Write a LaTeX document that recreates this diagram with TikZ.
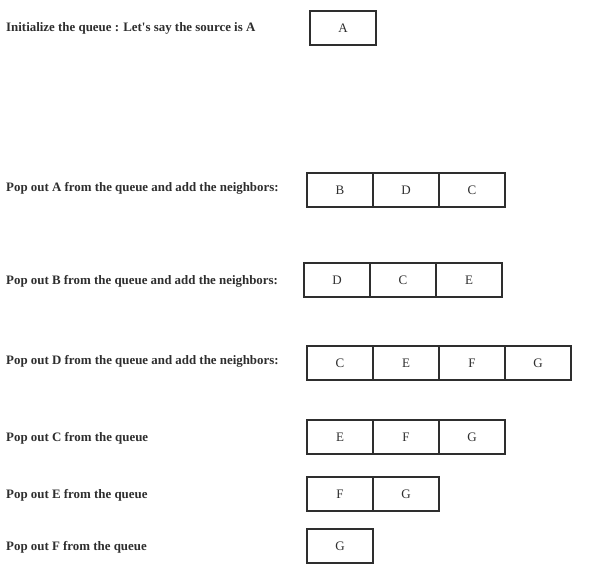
\documentclass[tikz,border=0pt]{standalone}
\usepackage{fontspec}
\setmainfont{Liberation Serif}
\definecolor{ink}{HTML}{2E2E2E}
\tikzset{
  cell/.style={draw=ink, text=ink, line width=1.7pt, outer sep=0pt, inner sep=0pt,
    minimum width=66pt, minimum height=34pt, font=\fontsize{13}{15}\selectfont},
  steplabel/.style={anchor=west, text=ink, inner sep=0pt, font=\bfseries\fontsize{12.9}{15}\selectfont}
}
\begin{document}
\begin{tikzpicture}[x=1pt, y=-1pt]
\useasboundingbox (0,0) rectangle (597,570);
% labels
\node[steplabel] (l1) at (6,28) {Initialize the queue : Let\textquotesingle s say the source is A};
\node[steplabel] (l2) at (6,188) {Pop out A from the queue and add the neighbors:};
\node[steplabel] (l3) at (6,281) {Pop out B from the queue and add the neighbors:};
\node[steplabel] (l4) at (6,361) {Pop out D from the queue and add the neighbors:};
\node[steplabel] (l5) at (6,438) {Pop out C from the queue};
\node[steplabel] (l6) at (6,495) {Pop out E from the queue};
\node[steplabel] (l7) at (6,547) {Pop out F from the queue};
% queue contents
\foreach \r/\yy/\xx/\cells in {1/28/310/{A}, 2/190/307/{B,D,C}, 3/280/304/{D,C,E},
  4/363/307/{C,E,F,G}, 5/437/307/{E,F,G}, 6/494/307/{F,G}, 7/546/307/{G}}
{
    \foreach \c [count=\i] in \cells
    {
        \node[cell] (q\r c\i) at ({\xx+33+66*(\i-1)},\yy) {\c};
    }
}
\end{tikzpicture}
\end{document}
